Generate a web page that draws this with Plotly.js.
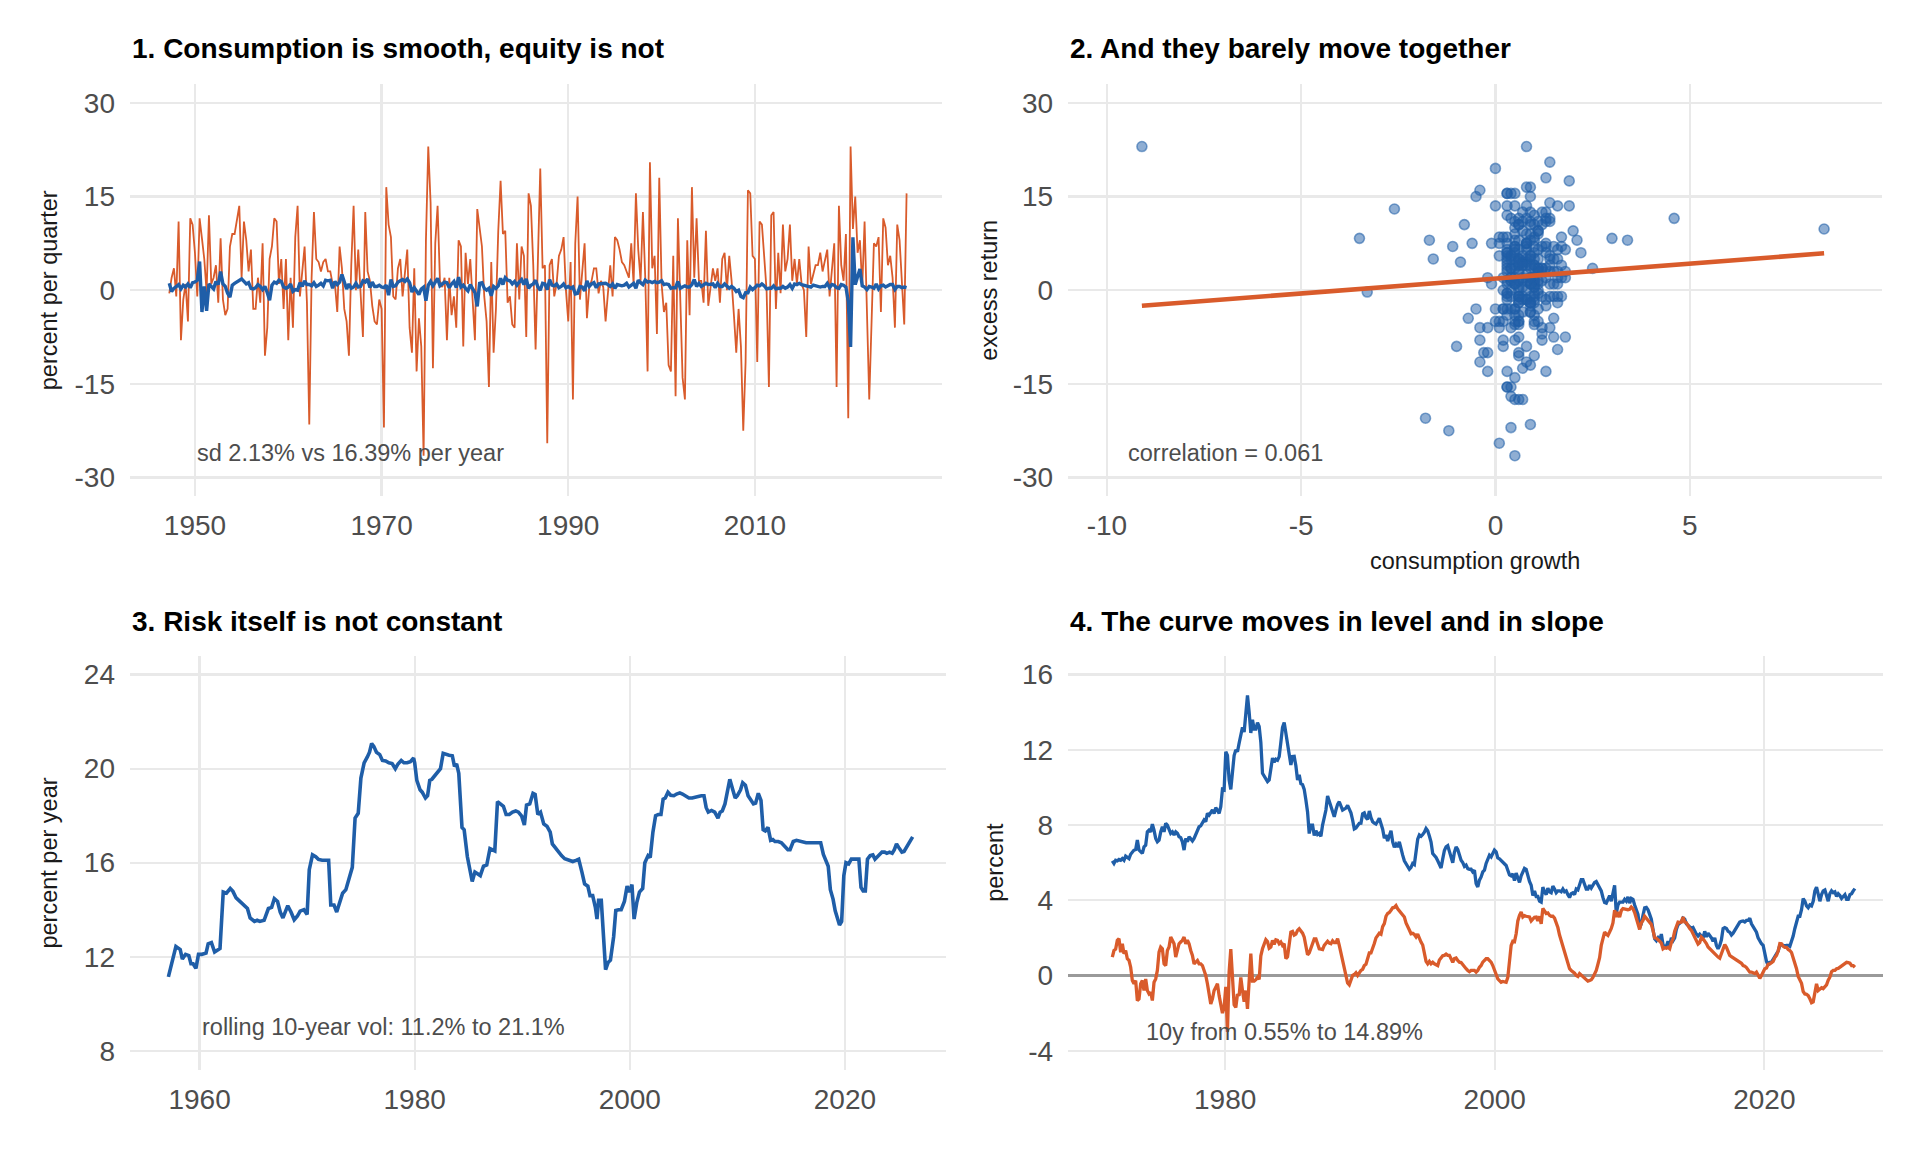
<!DOCTYPE html>
<html>
<head>
<meta charset="utf-8">
<script src="https://cdn.plot.ly/plotly-3.0.1.min.js"></script>
<style>
  html, body { margin: 0; padding: 0; background: #ffffff; }
  #chart { width: 1920px; height: 1152px; }
</style>
</head>
<body>
<div id="chart"></div>
<script>
// ---- panel 1 / 2: quarterly consumption growth and equity excess return (%) ----
var quarterStart = 1947.25;   // first quarter on the time axis
var quarterStep = 0.25;

var consumption = [
  1.1, -0.2, 0.3,
  0.6, 0.9, 0.2, 0.8,   0.5, 1.0, 0.4, 1.2,   1.3, 1.6, 4.6, -3.5,  0.6, -3.3, 1.0, 0.5,
  0.2, 1.4, 0.9, 3.0,   1.0, 0.6, -0.5, -1.1, 0.8, 1.1, 1.3, 1.6,   1.8, 1.4, 1.0, 1.2,
  0.3, 0.2, 0.4, 0.9,   0.6, 0.1, 0.6, -0.4,  -1.6, 0.8, 1.3, 1.1,  1.6, 1.4, 0.5, 0.3,
  0.5, 1.0, -0.2, 0.1,  0.0, 1.2, 0.6, 1.5,   0.9, 0.9, 0.7, 1.2,   0.6, 0.8, 1.1, 0.7,
  1.6, 1.5, 1.6, 0.3,   1.4, 0.9, 1.3, 2.5,   1.1, 0.2, 1.0, 0.3,   0.5, 1.1, 0.5, 0.6,
  1.5, 1.3, 1.8, 0.4,   1.3, 0.6, 0.6, 0.8,   0.5, 0.4, 0.8, -0.8,  1.7, 0.6, 0.7, 1.3,
  1.5, 1.7, 1.4, 1.8,   1.2, -0.3, 0.4, -0.2, -0.7, 0.2, 0.5, -1.7, 0.8, 1.4, 0.7, 1.3,
  1.9, 0.7, 1.0, 1.3,   1.2, 0.4, 1.0, 1.4,   0.4, 2.1, 0.5, 0.8,   0.3, -0.1, 0.9, 0.3,
  -0.4, -2.6, 1.1, 1.2, 0.3, 0.0, 0.3, -0.9,  0.6, 0.3, 0.7, 1.9,   0.9, 2.0, 1.6, 1.5,
  1.0, 1.4, 0.8, 1.3,   1.7, 0.9, 1.8, 0.3,   0.8, 1.0, 1.6, 0.5,   0.0, 1.1, 1.0, 0.1,
  1.7, 0.8, 0.7, 1.0,   0.4, 0.6, 1.0, 0.4,   0.6, 0.3, 0.5, -0.6,  -0.5, 0.6, 0.5, -0.1,
  1.5, 0.6, 1.0, 1.2,   0.4, 1.0, 1.0, 1.0,   1.1, 0.9, 0.6, 1.0,   0.3, 0.9, 0.8, 0.7,
  0.8, 1.1, 0.5, 0.8,   1.1, 0.3, 1.6, 1.2,   0.9, 1.6, 1.3, 1.4,   1.2, 1.4, 1.2, 1.3,
  1.5, 0.9, 1.0, 0.9,   0.3, 0.4, 0.4, 1.4,   0.3, 0.5, 0.7, 0.5,   0.5, 0.9, 1.7, 0.6,
  1.1, 0.6, 0.9, 1.1,   0.9, 0.9, 1.0, 0.4,   1.1, 0.6, 0.6, 1.0,   0.6, 0.3, 0.6, 0.3,
  -0.2, 0.0, -1.0, -1.2, -0.4, -0.4, 0.5, 0.1, 0.4, 0.8, 0.7, 1.0,  0.7, 0.2, 0.3, 0.3,
  0.7, 0.2, 0.3, 0.3,   0.6, 0.3, 0.5, 0.9,   0.3, 1.0, 0.9, 1.1,   0.9, 0.8, 0.6, 0.5,
  0.5, 0.8, 0.7, 0.6,   0.5, 0.6, 0.6, 1.1,   0.4, 0.9, 0.8, 0.4,   0.3, 0.9, 0.8, 0.5,
  -1.8, -9.1, 8.46, 0.9, 2.2, 3.4, 0.7, 0.5,  0.1, 0.6, 0.5, 0.3,   1.0, 0.2, 0.7, 0.8,
  0.5, 0.7, 0.9, 0.9,   0.1, 0.6, 0.6, 0.4,
  0.5, 0.4
];

var equity = [
  -0.5, 2, 3.5,
  -1, 11, -8, -1.5,     1, -5, 11.5, 10.5,    6, -1, 11.5, 8.3,     5, -0.3, 12, 1,
  2, 4, -2, 8.3,        -1.5, -4, -3, 7,      9, 9, 11, 13.5,       2, 11, 8, 3,
  6.5, -3, -3, 2,       -2, 7.5, -10.5, -6,   5, 7, 11.5, 11,       1, 5, -3, 5,
  -8, 2, -6, 8.5,       13.5, -1, 3, 7,       -2, -21.5, 2, 12.5,   5, 4.5, 3, 4.5,
  5, 3, 3, 1,           1, -3.5, 7, 3.5,      -3, -5, -10.5, 4,     13.5, 0, 6.5, -1,
  -7.5, 12.5, 3, 1.5,   -2.5, -5, -5.5, -1.5, -3, -22, 16.5, 10.5,  8.5, -1, -1.5, 3.5,
  5, -1, 3, 6.5,        -6, -10, 3.5, -13,    -4.5, -9, -26.5, 8,   23, 14, -12.5, 7.5,
  13.5, 1.5, 0.5, 2,    -8, 2, -4, -1,        -6, 8, 7, -9,         6, 1, 5, -1.5,
  -8, 13, 9.5, 7,       -1, -5, -15.5, 4.5,   -10, -3, 9.5, 17.5,   9, 9.5, -2, -1,
  -5.5, -6, 7.5, -1.5,  7, 5.5, -7.5, 15.5,   13.5, 4, -9.5, 4,     19.5, 3.5, 4, -24.5,
  4, 5, -1, 1,          5.5, 6.5, 8.5, 0,     -5, 4.5, -17.5, 7.5,  15, -1.5, 3.5, 7.5,
  -4.5, 0.5, 1.5, 3.5,  3.5, -0.5, 1.5, 0.5,  -5, -1, 4, -1,        8.5, 8, 6.5, 4.5,
  4, 3, 2, 7.5,         1, 15.5, 6.5, 1.5,    12.5, 2, -13, 20.5,   3.5, 5.5, -7, 18,
  1, -3.5, -2, -12,     -13, 5.5, -17, 11.5,  -0.5, -14, -17.5, 8,  -4, 16.5, 2, 11.5,
  1.5, 1.5, -2, 9.5,    -2.5, 1, 3.5, 1.5,    3.5, -2, 5, 6,        0, 5.5, 1.5, -4,
  -10, -3, -9, -22.5,   -11.5, 16, 15.5, 5.5, 5, -11.5, 11, 10.5,   5.5, 0, -15.5, 12,
  12.5, -3, 6, -0.5,    10.5, 3, 5, 10.5,     1.5, 5, 1, 5,         1, 0, -7.5, 7,
  1, 2.5, 4, 4,         6, 3, 4.5, 6.5,       -1, 3.5, 7.5, -15.5,  13.5, 4, 1.5, 9,
  -20.5, 23, 9.8, 15,   6, 8, 0.5, 11,        -5, -17.5, -5, 7.5,   7, 8.5, -3.5, 11.5,
  10, 4, 5.5, 2,        -6, 10.5, 8, 2,
  -5.5, 15.5
];

// least-squares line as drawn in panel 2
var fitIntercept = 1.86;
var fitSlope = 0.478;

// ---- panel 3: rolling 10-year volatility (% per year) ----
var volYears = [
  1957.1, 1957.55, 1957.8, 1958.2, 1958.4, 1958.7, 1959.0, 1959.2, 1959.4, 1959.66, 1959.9,
  1960.2, 1960.6, 1960.8, 1961.1, 1961.4, 1961.7, 1961.9, 1962.2, 1962.5, 1962.85, 1963.1,
  1963.4, 1963.75, 1964.1, 1964.45, 1964.7, 1965.1, 1965.35, 1965.6, 1966.0, 1966.4, 1966.7,
  1966.95, 1967.25, 1967.5, 1967.75, 1968.0, 1968.2, 1968.5, 1968.8, 1969.1, 1969.35, 1969.7,
  1970.0, 1970.2, 1970.5, 1970.8, 1971.05, 1971.4, 1971.7, 1972.0, 1972.2, 1972.5, 1972.75,
  1973.0, 1973.3, 1973.6, 1973.9, 1974.2, 1974.46, 1974.75, 1975.0, 1975.3, 1975.6, 1975.8,
  1976.0, 1976.2, 1976.45, 1976.75, 1977.0, 1977.3, 1977.6, 1977.9, 1978.2, 1978.45, 1978.75,
  1979.0, 1979.3, 1979.6, 1979.9, 1980.0, 1980.2, 1980.5, 1980.7, 1981.0, 1981.2, 1981.4,
  1981.6, 1981.85, 1982.15, 1982.4, 1982.65, 1982.9, 1983.2, 1983.5, 1983.7, 1983.9, 1984.1,
  1984.4, 1984.6, 1984.9, 1985.1, 1985.35, 1985.6, 1985.85, 1986.1, 1986.4, 1986.7, 1987.0,
  1987.3, 1987.45, 1987.7, 1987.95, 1988.25, 1988.5, 1988.8, 1989.1, 1989.4, 1989.65, 1989.95,
  1990.2, 1990.4, 1990.7, 1991.0, 1991.2, 1991.45, 1991.7, 1992.0, 1992.3, 1992.6, 1992.8,
  1993.1, 1993.4, 1993.65, 1993.95, 1994.3, 1994.7, 1995.0, 1995.25, 1995.55, 1995.8, 1996.1,
  1996.3, 1996.55, 1996.8, 1996.95, 1997.1, 1997.35, 1997.6, 1997.75, 1997.98, 1998.2, 1998.5,
  1998.7, 1998.95, 1999.2, 1999.5, 1999.75, 1999.97, 2000.2, 2000.4, 2000.65, 2000.9, 2001.2,
  2001.4, 2001.7, 2001.9, 2002.15, 2002.4, 2002.65, 2002.9, 2003.1, 2003.3, 2003.55, 2003.8,
  2004.1, 2004.35, 2004.65, 2004.9, 2005.2, 2005.5, 2005.8, 2006.05, 2006.35, 2006.65, 2006.9,
  2007.1, 2007.3, 2007.6, 2007.9, 2008.2, 2008.4, 2008.6, 2008.85, 2009.1, 2009.3, 2009.55,
  2009.8, 2010.0, 2010.3, 2010.5, 2010.75, 2011.0, 2011.2, 2011.5, 2011.7, 2011.95, 2012.2,
  2012.4, 2012.6, 2012.85, 2013.1, 2013.3, 2013.5, 2013.8, 2014.1, 2014.4, 2014.7, 2014.9,
  2015.2, 2015.5, 2015.85, 2016.1, 2016.4, 2016.7, 2016.95, 2017.2, 2017.5, 2017.75, 2018.0,
  2018.2, 2018.45, 2018.65, 2018.9, 2019.1, 2019.35, 2019.5, 2019.7, 2019.9, 2020.1, 2020.35,
  2020.6, 2020.8, 2021.0, 2021.3, 2021.5, 2021.7, 2021.9, 2022.1, 2022.35, 2022.6, 2022.8,
  2023.0, 2023.2, 2023.45, 2023.7, 2023.9, 2024.15, 2024.4, 2024.6, 2024.8, 2025.0, 2025.3,
  2025.5, 2025.7, 2025.9, 2026.3
];
var volValues = [
  11.14, 12.08, 12.43, 12.3, 11.9, 12.1, 12.05, 11.7, 11.7, 11.5, 12.1,
  12.1, 12.15, 12.55, 12.6, 12.2, 12.3, 12.35, 14.75, 14.7, 14.9, 14.78,
  14.5, 14.35, 14.2, 14.05, 13.65, 13.5, 13.55, 13.5, 13.55, 14.05, 14.1,
  14.47, 14.35, 13.9, 13.65, 13.97, 14.17, 13.9, 13.57, 13.73, 13.94, 14.0,
  13.8, 15.7, 16.33, 16.25, 16.14, 16.1, 16.1, 16.1, 14.2, 14.2, 13.9,
  14.3, 14.7, 14.85, 15.35, 15.8, 17.9, 18.1, 19.6, 20.25, 20.5, 20.7,
  21.07, 20.95, 20.7, 20.6, 20.35, 20.33, 20.25, 20.22, 20.0, 20.2, 20.35,
  20.25, 20.25, 20.3, 20.45, 20.25, 19.5, 19.1, 19.0, 18.75, 18.85, 19.5,
  19.55, 19.7, 19.85, 20.0, 20.65, 20.6, 20.57, 20.55, 20.1, 20.2, 19.8,
  17.5, 17.4, 16.25, 15.7, 15.2, 15.6, 15.5, 15.45, 15.85, 15.9, 16.6,
  16.55, 16.5, 18.6, 18.5, 18.4, 18.05, 18.05, 18.15, 18.2, 18.15, 17.98,
  17.6, 18.45, 18.5, 18.95, 18.9, 18.05, 18.15, 17.65, 17.55, 17.3, 16.8,
  16.6, 16.4, 16.3, 16.17, 16.1, 16.05, 16.1, 16.15, 15.6, 15.1, 15.0,
  14.6, 14.6, 14.1, 13.6, 14.4, 14.4, 12.7, 11.45, 11.75, 11.85, 12.85,
  13.97, 14.0, 14.0, 14.35, 15.0, 14.75, 15.07, 13.6, 14.3, 14.75, 14.9,
  16.0, 16.3, 16.22, 17.3, 18.0, 18.05, 18.05, 18.7, 18.75, 19.0, 18.87,
  18.85, 18.92, 18.97, 18.92, 18.85, 18.75, 18.75, 18.78, 18.85, 18.85, 18.85,
  18.35, 18.15, 18.22, 18.15, 17.9, 18.15, 18.2, 18.5, 19.0, 19.55, 19.15,
  18.75, 18.85, 19.1, 19.4, 19.3, 18.85, 18.7, 18.5, 18.53, 18.95, 18.65,
  17.4, 17.35, 17.5, 16.95, 16.98, 16.9, 16.9, 16.85, 16.7, 16.55, 16.55,
  16.9, 16.95, 16.9, 16.9, 16.85, 16.85, 16.85, 16.85, 16.85, 16.85, 16.35,
  16.15, 15.85, 14.85, 14.45, 13.95, 13.5, 13.35, 13.5, 15.45, 16.0, 15.95,
  16.15, 16.15, 16.15, 16.15, 14.95, 14.8, 14.8, 16.15, 16.3, 16.33, 16.15,
  16.25, 16.35, 16.45, 16.45, 16.4, 16.45, 16.4, 16.55, 16.8, 16.65, 16.45,
  16.48, 16.65, 16.8, 17.1
];

// ---- panel 4: 10-year yield and curve slope (%), sampled every ~1.5 months ----
var curveStart = 1971.63;
var curveStep = 0.1238;

var yield10y = [
  6.1, 5.96, 6.13, 6.1, 6.17, 6.13, 6.22, 6.13, 6.35, 6.28,
  6.22, 6.45, 6.58, 6.67, 6.7, 7.2, 6.67, 6.58, 6.49, 6.84,
  6.93, 7.64, 7.73, 7.64, 8.05, 7.73, 7.29, 7.11, 7.2, 7.64,
  7.91, 7.64, 8.09, 8.0, 7.73, 7.56, 7.64, 7.47, 7.64, 7.56,
  7.38, 7.33, 7.11, 6.67, 7.29, 7.11, 7.38, 7.24, 7.16, 7.29,
  7.47, 7.73, 7.91, 7.96, 8.09, 8.27, 8.18, 8.62, 8.53, 8.67,
  8.8, 8.62, 8.92, 8.8, 8.62, 8.98, 9.9, 9.87, 11.9, 11.7,
  10.4, 9.9, 10.9, 11.7, 12.0, 11.9, 12.36, 12.75, 13.2, 12.95,
  13.78, 14.89, 14.0, 12.9, 13.6, 13.1, 13.1, 13.45, 13.24, 12.4,
  10.75, 10.6, 10.49, 10.31, 10.4, 11.1, 11.56, 11.35, 11.5, 11.45,
  11.64, 12.4, 13.2, 13.45, 12.89, 12.45, 11.8, 11.2, 11.64, 11.65,
  11.15, 10.4, 10.67, 10.2, 10.15, 9.9, 9.33, 8.7, 7.55, 8.0,
  8.0, 7.45, 7.7, 7.5, 7.56, 7.4, 8.0, 8.42, 8.8, 9.55,
  9.3, 9.05, 8.71, 8.44, 8.8, 9.1, 9.24, 8.95, 8.8, 8.85,
  8.9, 9.05, 8.85, 8.65, 8.27, 7.8, 7.85, 7.95, 8.09, 8.1,
  8.6, 8.65, 8.4, 8.3, 8.75, 8.4, 8.18, 8.1, 8.05, 8.2,
  8.36, 8.07, 7.78, 7.3, 7.47, 7.15, 7.5, 7.7, 7.11, 6.82,
  6.98, 6.84, 7.11, 6.7, 6.4, 6.1, 5.96, 5.76, 5.65, 5.75,
  5.96, 5.9, 6.75, 7.25, 7.47, 7.4, 7.5, 7.62, 7.82, 7.7,
  7.42, 7.1, 6.49, 6.4, 6.28, 6.1, 5.87, 5.72, 6.2, 6.65,
  6.84, 6.9, 6.6, 6.3, 6.0, 6.55, 6.84, 6.7, 6.4, 6.13,
  6.0, 5.8, 5.87, 5.68, 5.65, 5.65, 5.51, 5.6, 4.89, 4.71,
  5.07, 5.24, 5.51, 5.6, 5.96, 6.22, 6.4, 6.31, 6.45, 6.67,
  6.58, 6.25, 6.2, 6.1, 6.05, 5.96, 5.85, 5.6, 5.35, 5.3,
  5.4, 5.05, 5.45, 5.2, 4.95, 5.3, 5.55, 5.7, 5.65, 5.3,
  5.0, 4.8, 4.25, 4.5, 4.2, 4.2, 3.95, 3.9, 4.7, 4.45,
  4.3, 4.65, 4.45, 4.4, 4.75, 4.6, 4.4, 4.5, 4.5, 4.45,
  4.6, 4.45, 4.5, 4.3, 4.15, 4.35, 4.4, 4.3, 4.6, 4.55,
  4.9, 5.1, 5.1, 4.85, 4.6, 4.6, 4.8, 4.65, 4.8, 4.95,
  5.0, 4.8, 4.6, 4.5, 4.15, 3.88, 3.85, 4.1, 4.25, 3.95,
  4.3, 4.8, 3.3, 3.75, 3.9, 3.9, 3.9, 4.05, 3.95, 4.18,
  3.85, 4.1, 4.05, 3.75, 3.5, 3.25, 2.55, 2.75, 3.2, 3.6,
  3.62, 3.5, 3.25, 3.0, 2.45, 1.95, 1.85, 2.0, 1.85, 2.2,
  1.65, 1.5, 1.55, 1.82, 1.6, 2.0, 1.85, 2.0, 2.45, 2.7,
  2.78, 2.86, 3.05, 3.0, 2.75, 2.67, 2.6, 2.5, 2.55, 2.35,
  2.2, 2.1, 2.2, 2.1, 2.0, 2.35, 2.05, 2.25, 2.15, 2.0,
  1.82, 2.0, 1.6, 1.42, 1.6, 1.9, 2.5, 2.55, 2.5, 2.35,
  2.3, 2.15, 2.25, 2.4, 2.5, 2.7, 2.84, 2.88, 2.9, 2.85,
  2.93, 2.93, 3.05, 2.75, 2.58, 2.5, 2.3, 2.0, 1.8, 1.69,
  1.6, 1.1, 0.75, 0.55, 0.7, 0.71, 0.85, 0.95, 1.1, 1.3,
  1.6, 1.65, 1.6, 1.55, 1.6, 1.6, 1.55, 1.8, 2.1, 2.5,
  2.9, 3.15, 3.15, 3.5, 4.09, 3.95, 3.7, 3.6, 3.75, 3.7,
  3.95, 4.5, 4.7, 4.2, 3.95, 4.3, 4.5, 4.55, 4.2, 3.95,
  4.35, 4.5, 4.4, 4.45, 4.2, 4.35, 4.25, 4.1, 4.2, 4.3,
  4.05, 4.05, 4.3, 4.35, 4.5, 4.62
];

var curveSlope = [
  0.98, 1.33, 1.4, 1.87, 1.96, 1.24, 1.69, 1.16, 1.33, 0.89,
  0.8, 0.44, -0.27, -0.44, -0.27, -1.33, -1.25, -0.44, -0.27, -0.8,
  -0.18, -0.8, -0.98, -0.9, -1.33, -0.36, -0.18, 0.27, 1.24, 1.51,
  1.42, 0.62, 0.53, 1.33, 1.51, 2.04, 1.87, 1.69, 0.98, 1.42,
  1.69, 1.78, 1.87, 2.04, 1.69, 1.87, 1.69, 1.33, 1.07, 0.62,
  0.71, 0.8, 0.62, 0.62, 0.53, 0.27, 0.0, -0.44, -0.98, -1.51,
  -1.24, -0.8, -0.62, -0.44, -1.07, -1.51, -2.0, -1.7, -0.6, -3.0,
  0.2, 1.4, 0.0, -1.55, -1.7, -1.0, -1.07, -0.1, -0.8, -1.4,
  -0.8, -1.78, -0.3, 1.16, -0.3, -0.3, -0.22, -0.09, -0.2, 1.05,
  1.42, 1.69, 1.9, 1.8, 1.45, 1.51, 1.87, 1.65, 1.9, 1.87,
  1.69, 1.78, 1.6, 1.69, 0.9, 1.0, 1.7, 2.31, 2.35, 2.15,
  2.2, 2.4, 2.49, 2.4, 2.25, 2.04, 1.65, 1.1, 1.2, 1.5,
  1.75, 1.95, 1.95, 1.6, 1.42, 1.4, 1.38, 1.6, 1.72, 1.82,
  1.72, 1.69, 1.85, 1.75, 1.75, 1.96, 1.6, 1.2, 0.7, 0.36,
  -0.05, -0.4, -0.5, -0.18, 0.0, 0.05, 0.15, 0.0, 0.15, 0.27,
  0.33, 0.53, 0.6, 0.95, 1.2, 1.2, 1.4, 1.7, 2.0, 2.13,
  2.25, 2.2, 2.6, 2.76, 3.15, 3.3, 3.35, 3.47, 3.6, 3.62,
  3.72, 3.55, 3.45, 3.29, 3.25, 3.11, 2.8, 2.55, 2.42, 2.22,
  2.24, 2.18, 2.05, 2.2, 1.94, 1.78, 1.62, 1.24, 0.75, 0.62,
  0.75, 0.62, 0.7, 0.62, 0.58, 0.53, 0.82, 0.95, 1.05, 1.07,
  1.14, 1.07, 1.07, 0.89, 0.7, 0.9, 0.93, 0.8, 0.71, 0.69,
  0.56, 0.44, 0.36, 0.27, 0.2, 0.27, 0.25, 0.27, 0.18, 0.27,
  0.44, 0.53, 0.71, 0.8, 0.89, 0.89, 0.8, 0.71, 0.53, 0.27,
  0.09, -0.18, -0.27, -0.36, -0.32, -0.36, -0.36, -0.1, 0.8, 1.6,
  1.82, 1.8, 2.22, 2.9, 3.2, 3.38, 3.11, 3.18, 3.15, 3.12,
  3.11, 2.9, 3.0, 3.1, 3.11, 2.9, 3.15, 2.75, 3.56, 3.45,
  3.3, 3.33, 3.2, 3.15, 3.15, 3.05, 2.84, 2.55, 2.15, 1.85,
  1.51, 1.2, 0.9, 0.58, 0.36, 0.27, 0.2, 0.12, 0.0, -0.05,
  0.1, 0.02, -0.09, -0.18, -0.25, -0.3, -0.27, -0.22, -0.1, 0.07,
  0.27, 0.6, 0.95, 1.6, 1.96, 2.31, 2.2, 2.13, 2.31, 2.5,
  2.8, 3.47, 3.11, 3.38, 3.1, 3.45, 3.56, 3.52, 3.52, 3.5,
  3.52, 3.64, 3.55, 3.35, 3.02, 2.84, 2.45, 2.8, 2.93, 3.15,
  3.05, 2.95, 2.84, 2.72, 2.4, 2.0, 1.98, 1.92, 1.82, 1.72,
  1.42, 1.48, 1.45, 1.5, 1.42, 1.75, 1.95, 2.35, 2.67, 2.84,
  2.82, 2.84, 3.11, 2.84, 2.8, 2.6, 2.5, 2.4, 2.2, 2.1,
  1.87, 1.67, 1.75, 2.04, 1.95, 1.85, 1.7, 1.52, 1.42, 1.33,
  1.24, 1.18, 1.07, 0.98, 0.92, 1.2, 1.42, 1.65, 1.5, 1.3,
  1.07, 1.0, 0.95, 0.89, 0.8, 0.78, 0.71, 0.65, 0.53, 0.5,
  0.42, 0.3, 0.18, 0.18, 0.15, 0.1, 0.18, -0.02, -0.15, 0.0,
  0.18, 0.36, 0.4, 0.6, 0.62, 0.68, 0.75, 0.95, 1.07, 1.3,
  1.7, 1.69, 1.55, 1.5, 1.5, 1.38, 1.33, 1.22, 0.95, 0.75,
  0.36, -0.05, -0.3, -0.42, -0.85, -0.98, -1.0, -1.07, -1.24, -1.45,
  -1.4, -1.0, -0.44, -0.8, -0.71, -0.65, -0.7, -0.6, -0.5, -0.25,
  -0.09, 0.2, 0.27, 0.27, 0.36, 0.38, 0.44, 0.5, 0.53, 0.62,
  0.7, 0.68, 0.65, 0.53, 0.53, 0.44
];

// ---- ticks ----
var p1YearTicks = [1950, 1970, 1990, 2010];
var returnTicks = [-30, -15, 0, 15, 30];
var growthTicks = [-10, -5, 0, 5];
var p3YearTicks = [1960, 1980, 2000, 2020];
var volTicks = [8, 12, 16, 20, 24];
var p4YearTicks = [1980, 2000, 2020];
var percentTicks = [-4, 0, 4, 8, 12, 16];

// ---- text ----
var panelTitles = [
  '1. Consumption is smooth, equity is not',
  '2. And they barely move together',
  '3. Risk itself is not constant',
  '4. The curve moves in level and in slope'
];
var notes = [
  'sd 2.13% vs 16.39% per year',
  'correlation = 0.061',
  'rolling 10-year vol: 11.2% to 21.1%',
  '10y from 0.55% to 14.89%'
];

var BLUE = '#1f5ea8';
var ORANGE = '#d95b2b';
var FONT = '"Liberation Sans", Arial, Helvetica, sans-serif';

function timeAxis(start, step, n) {
  var out = [];
  for (var i = 0; i < n; i++) out.push(+(start + i * step).toFixed(4));
  return out;
}

var quarters = timeAxis(quarterStart, quarterStep, equity.length);
var curveDates = timeAxis(curveStart, curveStep, yield10y.length);

var cMin = Math.min.apply(null, consumption);
var cMax = Math.max.apply(null, consumption);

function axis(range, ticks, domain, anchor, standoff) {
  return {
    range: range,
    domain: domain,
    anchor: anchor,
    tickmode: 'array',
    tickvals: ticks,
    ticktext: ticks.map(String),
    showgrid: true,
    gridcolor: '#e9e9e9',
    gridwidth: 2.3,
    zeroline: false,
    showline: false,
    ticks: '',
    ticklabelstandoff: standoff,
    tickfont: { family: FONT, size: 28, color: '#4d4d4d' },
    fixedrange: true
  };
}

var traces = [
  { x: quarters, y: equity, type: 'scatter', mode: 'lines', xaxis: 'x', yaxis: 'y',
    line: { color: ORANGE, width: 1.8 }, hoverinfo: 'skip' },
  { x: quarters, y: consumption, type: 'scatter', mode: 'lines', xaxis: 'x', yaxis: 'y',
    line: { color: BLUE, width: 3.4 }, hoverinfo: 'skip' },
  { x: consumption, y: equity, type: 'scatter', mode: 'markers', xaxis: 'x2', yaxis: 'y2',
    marker: { size: 10, color: 'rgba(31,94,168,0.5)', line: { color: 'rgba(31,94,168,0.55)', width: 1.6 } },
    hoverinfo: 'skip' },
  { x: [cMin, cMax], y: [fitIntercept + fitSlope * cMin, fitIntercept + fitSlope * cMax],
    type: 'scatter', mode: 'lines', xaxis: 'x2', yaxis: 'y2',
    line: { color: ORANGE, width: 4.6 }, hoverinfo: 'skip' },
  { x: volYears, y: volValues, type: 'scatter', mode: 'lines', xaxis: 'x3', yaxis: 'y3',
    line: { color: BLUE, width: 3.6 }, hoverinfo: 'skip' },
  { x: curveDates, y: yield10y, type: 'scatter', mode: 'lines', xaxis: 'x4', yaxis: 'y4',
    line: { color: BLUE, width: 3.3 }, hoverinfo: 'skip' },
  { x: curveDates, y: curveSlope, type: 'scatter', mode: 'lines', xaxis: 'x4', yaxis: 'y4',
    line: { color: ORANGE, width: 3.3 }, hoverinfo: 'skip' }
];

var topRow = [0.5692, 0.9270];
var bottomRow = [0.0716, 0.4307];

var y4 = axis([-5, 17], percentTicks, bottomRow, 'x4', 14);
y4.zeroline = true;
y4.zerolinecolor = '#9a9a9a';
y4.zerolinewidth = 2.2;

function titleNote(text, x, y) {
  return { text: '<b>' + text + '</b>', xref: 'paper', yref: 'paper', x: x, y: y,
    xanchor: 'left', yanchor: 'middle', showarrow: false,
    font: { family: FONT, size: 28, color: '#000000' } };
}
function axisTitle(text, x, y, angle) {
  return { text: text, xref: 'paper', yref: 'paper', x: x, y: y, textangle: angle,
    xanchor: 'center', yanchor: 'middle', showarrow: false,
    font: { family: FONT, size: 23.5, color: '#1a1a1a' } };
}
function dataNote(text, xref, yref, x, y) {
  return { text: text, xref: xref, yref: yref, x: x, y: y,
    xanchor: 'left', yanchor: 'middle', showarrow: false,
    font: { family: FONT, size: 23.5, color: '#4d4d4d' } };
}

var layout = {
  width: 1920, height: 1152,
  margin: { l: 0, r: 0, t: 0, b: 0 },
  paper_bgcolor: '#ffffff', plot_bgcolor: '#ffffff',
  showlegend: false,
  font: { family: FONT },
  xaxis: axis([1943.04, 2030.04], p1YearTicks, [0.0677, 0.4906], 'y', 10),
  yaxis: axis([-33, 33], returnTicks, topRow, 'x', 14),
  xaxis2: axis([-11.0, 9.95], growthTicks, [0.5563, 0.9802], 'y2', 10),
  yaxis2: axis([-33, 33], returnTicks, topRow, 'x2', 14),
  xaxis3: axis([1953.53, 2029.4], p3YearTicks, [0.0677, 0.4927], 'y3', 10),
  yaxis3: axis([7.2, 24.8], volTicks, bottomRow, 'x3', 14),
  xaxis4: axis([1968.35, 2028.8], p4YearTicks, [0.5563, 0.9807], 'y4', 10),
  yaxis4: y4,
  annotations: [
    titleNote(panelTitles[0], 0.0677, 0.9575),
    titleNote(panelTitles[1], 0.5563, 0.9575),
    titleNote(panelTitles[2], 0.0677, 0.4601),
    titleNote(panelTitles[3], 0.5563, 0.4601),
    axisTitle('percent per quarter', 0.0255, 0.748, -90),
    axisTitle('excess return', 0.5154, 0.748, -90),
    axisTitle('consumption growth', 0.7683, 0.513, 0),
    axisTitle('percent per year', 0.0255, 0.2512, -90),
    axisTitle('percent', 0.5178, 0.2512, -90),
    dataNote(notes[0], 'x', 'y', 1950, -26),
    dataNote(notes[1], 'x2', 'y2', -9.5, -26),
    dataNote(notes[2], 'x3', 'y3', 1960, 9),
    dataNote(notes[3], 'x4', 'y4', 1974, -3)
  ]
};

Plotly.newPlot('chart', traces, layout, { displayModeBar: false, staticPlot: true });
</script>
</body>
</html>
